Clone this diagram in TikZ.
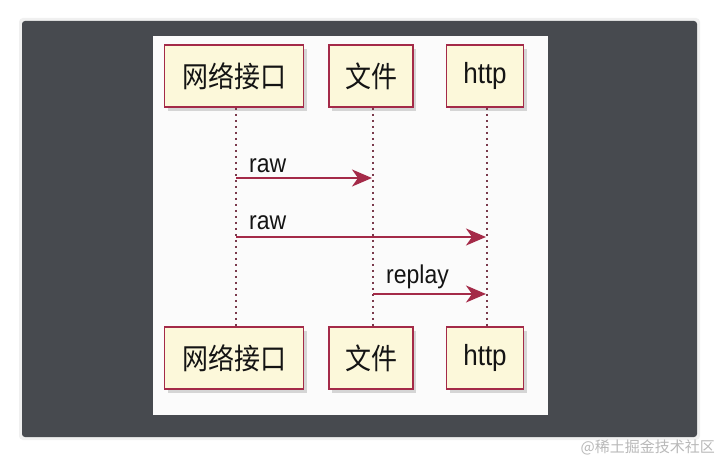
\documentclass[tikz,border=0pt]{standalone}
\usepackage{fontspec}
\setmainfont{Liberation Sans}
\newfontfamily\cjk{Noto Sans CJK SC}
\usetikzlibrary{arrows.meta,shadows,calc}
\definecolor{umlred}{HTML}{A42A48}
\definecolor{lifered}{HTML}{7A3A4C}
\definecolor{umlfill}{HTML}{FCF8DA}
\definecolor{frame}{HTML}{474A4F}
\newcommand{\talltext}[1]{\scalebox{1}[1.12]{#1}}
\tikzset{
  part/.style={draw=umlred, line width=1.8pt, fill=umlfill, minimum height=62pt,
    inner sep=0pt, text=black!92, font=\fontsize{26}{28}\selectfont,
    drop shadow={shadow xshift=3pt, shadow yshift=-4pt, opacity=0.3, fill=gray}},
  life/.style={draw=lifered, line width=1.4pt, dash pattern=on 2.5pt off 3.5pt},
  msg/.style={draw=umlred, line width=1.4pt, -{Stealth[length=20pt, width=17pt, inset=6pt]}},
  lbl/.style={font=\fontsize{23}{25}\selectfont, text=black!92, anchor=south west, inner sep=0pt}
}
\begin{document}
\begin{tikzpicture}[x=1pt, y=-1pt]
\useasboundingbox (0,0) rectangle (720,460);
\fill[white] (0,0) rectangle (720,460);
% dark frame
\fill[gray!12, rounded corners=4pt] (19,18) rectangle (700,440);
\fill[frame, rounded corners=3pt] (22,21) rectangle (697,437);
% white panel
\fill[white!97!gray] (153,36) rectangle (548,415);

% participants
\node[part, minimum width=139pt] (a1) at (234,76) {\talltext{\cjk 网络接口}};
\node[part, minimum width=84pt]  (a2) at (371,76) {\talltext{\cjk 文件}};
\node[part, minimum width=77pt]  (a3) at (485,76) {\talltext{http}};
\node[part, minimum width=139pt] (b1) at (234,358) {\talltext{\cjk 网络接口}};
\node[part, minimum width=84pt]  (b2) at (371,358) {\talltext{\cjk 文件}};
\node[part, minimum width=77pt]  (b3) at (485,358) {\talltext{http}};

% lifelines
\draw[life] ([xshift=2pt]a1.south) -- ([xshift=2pt]b1.north);
\draw[life] ([xshift=2pt]a2.south) -- ([xshift=2pt]b2.north);
\draw[life] ([xshift=2pt]a3.south) -- ([xshift=2pt]b3.north);

% message end points on the lifelines
\coordinate (m1s) at (236,178);
\coordinate (m1e) at (372,178);
\coordinate (m2s) at (236,237);
\coordinate (m2e) at (486,237);
\coordinate (m3s) at (373,294);
\coordinate (m3e) at (486,294);

\draw[msg] (m1s) -- (m1e);
\draw[msg] (m2s) -- (m2e);
\draw[msg] (m3s) -- (m3e);

\node[lbl] (t1) at (249,173) {\talltext{raw}};
\node[lbl] (t2) at (249,230) {\talltext{raw}};
\node[lbl] (t3) at (386,289) {\talltext{replay}};

% watermark
\node[font=\cjk\fontsize{15}{17}\selectfont, text=gray!55, anchor=east, inner sep=0pt] (wm) at (715,447) {@稀土掘金技术社区};
\end{tikzpicture}
\end{document}
